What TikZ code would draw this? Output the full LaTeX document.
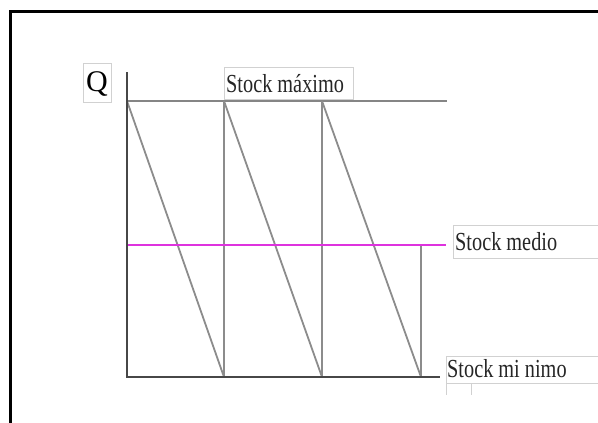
\documentclass[tikz,border=0pt]{standalone}
\usepackage{fontspec}
\setmainfont{Liberation Serif}
\definecolor{medcol}{RGB}{222,50,222}
\begin{document}
\begin{tikzpicture}[x=1pt,y=-1pt,
  ax/.style={draw=black!72,line width=2.6pt},
  lim/.style={draw=black!48,line width=2.4pt},
  saw/.style={draw=black!45,line width=1.8pt},
  med/.style={draw=medcol,line width=2.8pt},
  lbl/.style={inner sep=0pt,anchor=base west,text=black!85},
  lblbox/.style={draw=black!18,line width=0.8pt}]
\useasboundingbox (0,0) rectangle (598,423);
% frame
\coordinate (fbl) at (10.5,430);
\coordinate (ftl) at (10.5,11.5);
\coordinate (ftr) at (605,11.5);
\draw[line width=3pt] (fbl) -- (ftl) -- (ftr);
% label boxes
\draw[lblbox] (83,63) rectangle (111,102);
\node[inner sep=0pt] (q) at (97,84) {\fontsize{30}{30}\selectfont Q};
\draw[lblbox] (224,67) rectangle (353,99);
\node[lbl] (smax) at (226,92) {\scalebox{0.78}[1]{\fontsize{26}{26}\selectfont Stock máximo}};
\draw[lblbox] (605,225) -- (453,225) -- (453,258) -- (605,258);
\node[lbl] (smed) at (455,250) {\scalebox{0.78}[1]{\fontsize{26}{26}\selectfont Stock medio}};
\draw[lblbox] (605,356) -- (446,356) -- (446,383) -- (605,383);
\draw[lblbox] (446,383) -- (446,395) (471,383) -- (471,395);
\node[lbl] (smin) at (447,377) {\scalebox{0.78}[1]{\fontsize{26}{26}\selectfont Stock mi nimo}};
% coordinates
\coordinate (o) at (127,377);
\coordinate (ytop) at (127,72);
\coordinate (xend) at (440,377);
\coordinate (m0) at (127,101);
\coordinate (mend) at (447,101);
\coordinate (a1) at (224,101);
\coordinate (b1) at (224,377);
\coordinate (a2) at (322,101);
\coordinate (b2) at (322,377);
\coordinate (b3) at (421,377);
\coordinate (c3) at (421,245);
\coordinate (med0) at (127,245);
\coordinate (med1) at (446,245);
% lines
\draw[lim] (m0) -- (mend);
\draw[saw] (m0) -- (b1) (a1) -- (b1) (a1) -- (b2) (a2) -- (b2) (a2) -- (b3) (c3) -- (b3);
\draw[med] (med0) -- (med1);
\draw[ax] (ytop) -- (o) -- (xend);
\end{tikzpicture}
\end{document}
